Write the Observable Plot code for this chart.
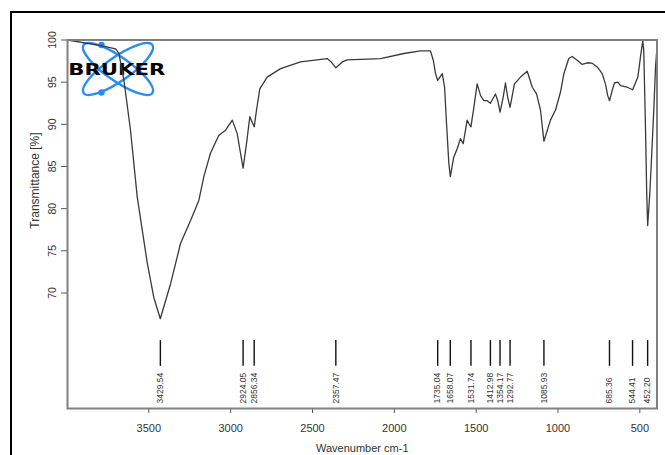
<!DOCTYPE html>
<html>
<head>
<meta charset="utf-8">
<script src="https://cdn.jsdelivr.net/npm/d3@7"></script>
<script src="https://cdn.jsdelivr.net/npm/@observablehq/plot@0.6"></script>
<style>
  html, body { margin: 0; padding: 0; background: #fff; }
  #wrap { position: relative; width: 665px; height: 455px; overflow: hidden; }
  #border { position: absolute; left: 10px; top: 11px; right: -4px; bottom: -4px;
            border-left: 2px solid #000; border-top: 2px solid #000; pointer-events: none; }
  #chart { position: absolute; left: 0; top: 0; }
</style>
</head>
<body>
<div id="wrap"><div id="chart"></div><div id="border"></div></div>
<script>
// IR spectrum: wavenumber (cm-1) and transmittance (%)
const wavenumber = [
  3996, 3850, 3785, 3703, 3683, 3652, 3612, 3571, 3510, 3470, 3430, 3367, 3306, 3245, 3194,
  3164, 3123, 3072, 3031, 2990, 2960, 2940, 2924, 2903, 2883, 2856, 2842, 2822, 2777, 2695,
  2573, 2410, 2386, 2357, 2318, 2288, 2084, 1942, 1840, 1779, 1762, 1748, 1735, 1707, 1693,
  1681, 1667, 1658, 1637, 1616, 1596, 1579, 1555, 1545, 1532, 1514, 1494, 1473, 1453, 1432,
  1413, 1382, 1368, 1354, 1335, 1321, 1307, 1293, 1266, 1229, 1188, 1157, 1131, 1107, 1086,
  1046, 1015, 985, 964, 934, 913, 883, 852, 821, 791, 760, 730, 710, 696, 685,
  669, 655, 634, 618, 577, 544, 512, 496, 482, 476, 465, 458, 452, 440, 430,
  414, 404, 398
];
const transmittance = [
  100.0, 99.5, 99.3, 98.95, 98.4, 95.2, 89.3, 81.4, 73.6, 69.5, 66.95, 71.1, 75.9, 78.6, 81.0,
  83.8, 86.6, 88.7, 89.3, 90.5, 88.9, 86.6, 84.8, 87.75, 90.9, 89.7, 91.7, 94.2, 95.6, 96.6,
  97.4, 97.8, 97.4, 96.7, 97.4, 97.65, 97.8, 98.4, 98.7, 98.7, 97.6, 96.0, 95.2, 96.0, 94.4,
  90.1, 85.4, 83.8, 86.1, 87.1, 88.3, 87.7, 90.5, 90.1, 89.7, 92.0, 94.8, 93.4, 92.8, 92.8,
  92.5, 93.6, 92.8, 91.45, 93.2, 94.9, 93.2, 92.0, 94.8, 95.6, 96.3, 94.4, 93.6, 91.7, 88.0,
  90.5, 91.7, 93.8, 96.0, 97.8, 98.05, 97.6, 97.1, 97.3, 97.25, 96.8, 96.0, 94.8, 93.4, 92.8,
  94.0, 94.9, 95.0, 94.6, 94.4, 94.1, 95.6, 98.0, 99.9, 98.8, 89.3, 82.0, 78.0, 81.5, 85.3,
  92.0, 96.8, 98.4
];

// Picked peak positions (cm-1)
const peaks = [3429.54, 2924.05, 2856.34, 2357.47, 1735.04, 1658.07, 1531.74, 1412.98,
               1354.17, 1292.77, 1085.93, 685.36, 544.41, 452.20];

const xTicks = [3500, 3000, 2500, 2000, 1500, 1000, 500];
const yTicks = [70, 75, 80, 85, 90, 95, 100];

const spectrum = wavenumber.map((w, i) => ({w, t: transmittance[i]}));

// Bruker atom logo drawn in the upper-left corner of the frame
function brukerLogo(index, scales, values, dim) {
  const cx = dim.marginLeft + 51, cy = dim.marginTop + 29.5;
  const g = d3.create("svg:g");
  const blue = "#2a8cf2";
  for (const a of [35, -35]) {
    g.append("ellipse")
      .attr("cx", cx).attr("cy", cy).attr("rx", 42).attr("ry", 12)
      .attr("transform", `rotate(${a} ${cx} ${cy})`)
      .attr("fill", "none").attr("stroke", blue).attr("stroke-width", 2.4);
  }
  for (const dy of [-24, 23.5]) {
    g.append("circle").attr("cx", cx - 16.5).attr("cy", cy + dy).attr("r", 3.2).attr("fill", blue);
  }
  g.append("text")
    .attr("x", dim.marginLeft + 1.3).attr("y", cy + 6)
    .attr("text-anchor", "start")
    .attr("font-family", "DejaVu Sans, Liberation Sans, sans-serif")
    .attr("font-weight", 900).attr("font-size", 16)
    .attr("textLength", 97).attr("lengthAdjust", "spacingAndGlyphs")
    .attr("fill", "#000")
    .text("BRUKER");
  return g.node();
}

const chart = Plot.plot({
  width: 665,
  height: 455,
  marginLeft: 67,
  marginRight: 8.5,
  marginTop: 39.5,
  marginBottom: 47,
  style: {fontFamily: "Liberation Sans, Arial, sans-serif", color: "#333", background: "transparent"},
  x: {domain: [3997, 395]},
  y: {domain: [56.3, 100]},
  marks: [
    Plot.axisX({ticks: xTicks, tickFormat: d => String(d), tickSize: 5, tickPadding: 11, fontSize: 11,
                label: null, stroke: "#555", color: "#333"}),
    Plot.axisY({ticks: yTicks, tickFormat: d => String(d), tickSize: 6, tickPadding: 6, tickRotate: -90,
                fontSize: 10.5, label: null, stroke: "#555", color: "#333"}),
    brukerLogo,
    Plot.line(spectrum, {x: "w", y: "t", stroke: "#3a3a3a", strokeWidth: 1.3}),
    Plot.ruleX(peaks, {x: d => d, y1: 64.35, y2: 61.3, stroke: "#111", strokeWidth: 1.4}),
    Plot.text(peaks, {x: d => d, frameAnchor: "bottom", dy: -5, rotate: -90, textAnchor: "start",
                      lineAnchor: "middle", text: d => d.toFixed(2), fontSize: 8.5, fill: "#333"}),
    Plot.text(["Wavenumber cm-1"], {frameAnchor: "bottom", dy: 40, lineAnchor: "middle",
                                    textAnchor: "middle", fontSize: 11, fill: "#333"}),
    Plot.text(["Transmittance [%]"], {frameAnchor: "top-left", dx: -32, dy: 140.5, rotate: -90,
                                      textAnchor: "middle", lineAnchor: "middle", fontSize: 12, fill: "#333"}),
    Plot.frame({stroke: "#808080", strokeWidth: 2})
  ]
});
document.getElementById("chart").append(chart);
</script>
</body>
</html>
